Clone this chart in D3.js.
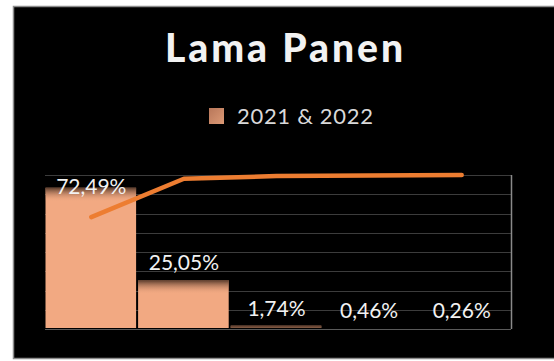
<!DOCTYPE html>
<html>
<head>
<meta charset="utf-8">
<script src="https://cdn.jsdelivr.net/npm/d3@7"></script>
<style>
  body { margin: 0; background: #fff; }
  svg { display: block; }
</style>
</head>
<body>
<div id="chart"></div>
<script>
// chart data
const categories = ["Lama 1", "Lama 2", "Lama 3", "Lama 4", "Lama 5"];
const percentValues = [72.49, 25.05, 1.74, 0.46, 0.26];
const percentLabels = ["72,49%", "25,05%", "1,74%", "0,46%", "0,26%"];
const cumulativeValues = [72.49, 97.54, 99.28, 99.74, 100];
const seriesName = "2021 & 2022";
const chartTitle = "Lama Panen";

const width = 554;
const height = 361;
const svg = d3.select("#chart").append("svg").attr("width", width).attr("height", height);

// black chart area with grey frame
svg.append("rect")
    .attr("x", 13.5).attr("y", 6.5)
    .attr("width", 560).attr("height", 352)
    .attr("fill", "#000")
    .attr("stroke", "#8c8c8c")
    .attr("stroke-width", 1.5);

const plot = { left: 45, right: 508, top: 175, bottom: 329 };

const x = d3.scaleBand().domain(categories).range([plot.left, plot.right]).padding(0);
const y = d3.scaleLinear().domain([0, 79]).range([plot.bottom, plot.top]);
const y2 = d3.scaleLinear().domain([0, 100]).range([plot.bottom - 1, plot.top]);

const defs = svg.append("defs");

// soft dark top edge of each bar, fixed height in pixels
percentValues.forEach((d, i) => {
    const g = defs.append("linearGradient").attr("id", "barTop" + i)
        .attr("gradientUnits", "userSpaceOnUse")
        .attr("x1", 0).attr("x2", 0)
        .attr("y1", y(d)).attr("y2", y(d) + 14);
    g.append("stop").attr("offset", "0%").attr("stop-color", "#24150d").attr("stop-opacity", 0.75);
    g.append("stop").attr("offset", "100%").attr("stop-color", "#f2a982").attr("stop-opacity", 0);
});

const legendGrad = defs.append("linearGradient").attr("id", "legendFill")
    .attr("x1", 0).attr("y1", 0).attr("x2", 1).attr("y2", 1);
legendGrad.append("stop").attr("offset", "0%").attr("stop-color", "#b8775a");
legendGrad.append("stop").attr("offset", "100%").attr("stop-color", "#dc9a76");

// gridlines at every 10%
svg.append("g").selectAll("line")
    .data(d3.range(0, 81, 10))
    .join("line")
    .attr("x1", plot.left).attr("x2", plot.right + 3)
    .attr("y1", (d, i) => Math.round(plot.bottom - i * (plot.bottom - plot.top) / 8) + 0.5)
    .attr("y2", (d, i) => Math.round(plot.bottom - i * (plot.bottom - plot.top) / 8) + 0.5)
    .attr("stroke", d => d === 0 ? "#5a5a5a" : "#3c3c3c")
    .attr("stroke-width", 1);

// right axis line
svg.append("line")
    .attr("x1", plot.right + 3.5).attr("x2", plot.right + 3.5)
    .attr("y1", plot.top).attr("y2", plot.bottom)
    .attr("stroke", "#8a8a8a").attr("stroke-width", 1.5);

// bars
const bars = svg.append("g").selectAll("g")
    .data(percentValues)
    .join("g");

bars.append("rect")
    .attr("x", (d, i) => x(categories[i]) + 0.5)
    .attr("width", x.bandwidth() - 2)
    .attr("y", d => y(d))
    .attr("height", d => plot.bottom - 1 - y(d))
    .attr("fill", "#f2a982");

bars.append("rect")
    .attr("x", (d, i) => x(categories[i]) + 0.5)
    .attr("width", x.bandwidth() - 2)
    .attr("y", d => y(d))
    .attr("height", d => Math.min(14, plot.bottom - 1 - y(d)))
    .attr("fill", (d, i) => `url(#barTop${i})`);

// data labels
svg.append("g").selectAll("text")
    .data(percentValues)
    .join("text")
    .attr("x", (d, i) => x(categories[i]) + x.bandwidth() / 2)
    .attr("y", d => Math.min(Math.max(y(d) - 10, plot.top + 19), 326))
    .attr("text-anchor", "middle")
    .attr("font-family", "Lato, sans-serif")
    .attr("font-size", 21)
    .attr("fill", "#f2f2f2")
    .text((d, i) => percentLabels[i]);

// cumulative line
const line = d3.line()
    .x((d, i) => x(categories[i]) + x.bandwidth() / 2)
    .y(d => y2(d));

svg.append("path")
    .datum(cumulativeValues)
    .attr("d", line)
    .attr("fill", "none")
    .attr("stroke", "#ed7d31")
    .attr("stroke-width", 4.5)
    .attr("stroke-linecap", "round")
    .attr("stroke-linejoin", "round");

// title
svg.append("text")
    .attr("x", 284).attr("y", 62)
    .attr("text-anchor", "middle")
    .attr("font-family", "Lato, sans-serif")
    .attr("font-weight", "900")
    .attr("font-size", 39)
    .attr("fill", "#f2f2f2")
    .attr("textLength", 238)
    .attr("lengthAdjust", "spacing")
    .text(chartTitle);

// legend
svg.append("rect")
    .attr("x", 209).attr("y", 108)
    .attr("width", 15).attr("height", 16)
    .attr("fill", "url(#legendFill)");

svg.append("text")
    .attr("x", 237).attr("y", 124)
    .attr("font-family", "Lato, sans-serif")
    .attr("font-size", 22)
    .attr("fill", "#d9d9d9")
    .attr("textLength", 136)
    .attr("lengthAdjust", "spacing")
    .text(seriesName);
</script>
</body>
</html>
